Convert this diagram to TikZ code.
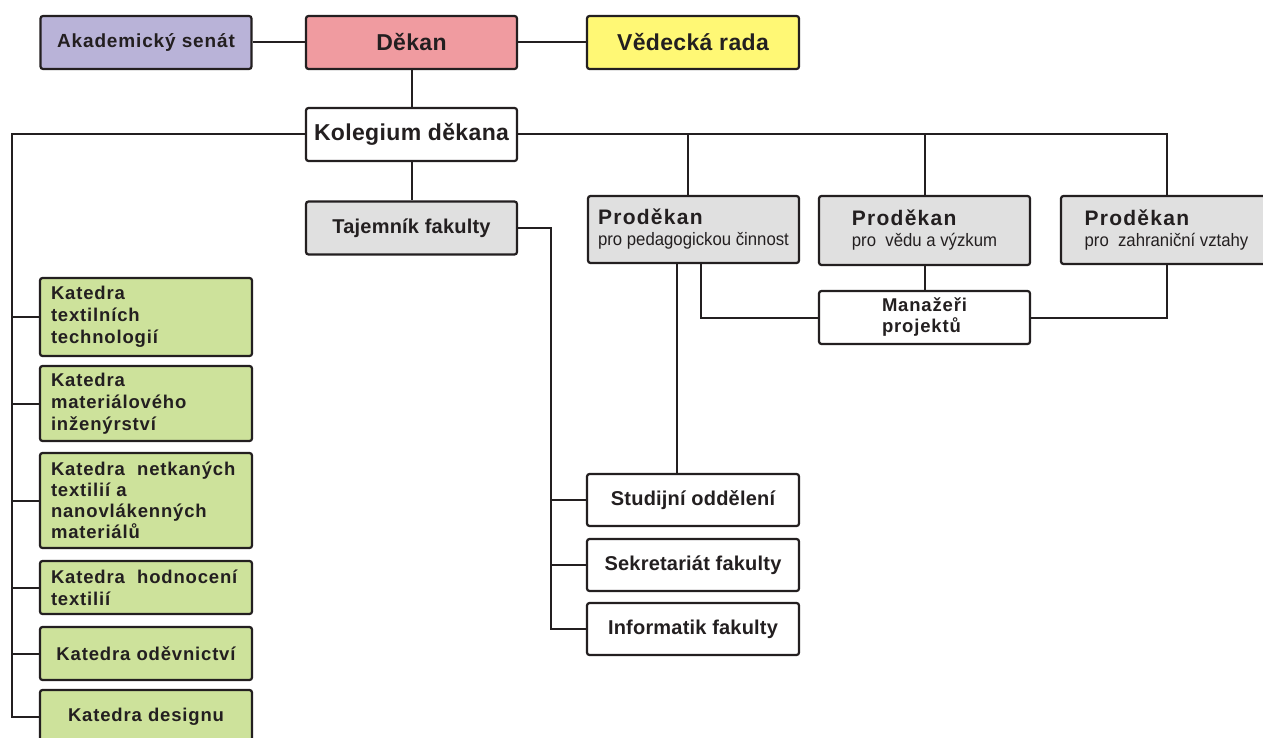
\documentclass[tikz,border=0pt]{standalone}
\usepackage{fontspec}
\setmainfont{Liberation Sans}
\newfontfamily\boxfont[LetterSpace=1]{Liberation Sans}
\newfontfamily\titlefont[LetterSpace=1.5]{Liberation Sans}
\newfontfamily\katfont[LetterSpace=4.5]{Liberation Sans}
\newfontfamily\prodfont[LetterSpace=6]{Liberation Sans}
\newfontfamily\narrowfont[FakeStretch=0.93]{Liberation Sans}
\usetikzlibrary{calc}

\definecolor{ink}{HTML}{231F20}
\definecolor{senatfill}{HTML}{B9B3D8}
\definecolor{dekanfill}{HTML}{F09BA0}
\definecolor{radafill}{HTML}{FFF875}
\definecolor{greyfill}{HTML}{E0E0E0}
\definecolor{katfill}{HTML}{CDE29B}

\tikzset{
  box/.style={draw=ink, line width=2.2pt, rounded corners=2.5pt, fill=white,
    minimum width=211pt, minimum height=53pt, inner sep=0pt, text=ink,
    font=\boxfont\bfseries\fontsize{20}{22}\selectfont},
  bigbox/.style={box, font=\titlefont\bfseries\fontsize{23}{26}\selectfont},
  prodbox/.style={box, fill=greyfill, align=left},
  katbox/.style={box, fill=katfill, minimum width=212pt, text width=190pt,
    align=left, font=\katfont\bfseries\fontsize{18.5}{22}\selectfont},
  link/.style={draw=ink, line width=2pt},
}

\newcommand{\prodtext}[1]{{\prodfont\fontsize{21}{24}\selectfont Proděkan}\\[-1pt]
  {\narrowfont\mdseries\fontsize{18}{19}\selectfont #1}}

\begin{document}
\begin{tikzpicture}[x=1pt,y=-1pt]
      \useasboundingbox (0,0) rectangle (1263,738);

      % top row
      \node[box, fill=senatfill, font=\katfont\bfseries\fontsize{19}{22}\selectfont] (senat) at (146,42.5) {Akademický senát};
      \node[bigbox, fill=dekanfill] (dekan) at (411.5,42.5) {Děkan};
      \node[bigbox, fill=radafill, minimum width=212pt] (rada) at (693,42.5) {Vědecká rada};

      \node[bigbox] (kolegium) at (411.5,134.5) {Kolegium děkana};
      \node[box, fill=greyfill] (tajemnik) at (411.5,228) {Tajemník fakulty};

      % prodekani
      \node[prodbox, minimum height=67pt] (prod1) at (693.5,229.5) {\prodtext{pro pedagogickou činnost}};
      \node[prodbox, minimum height=69pt] (prod2) at (924.5,230.5) {\prodtext{pro~~vědu a výzkum}};
      \node[prodbox, minimum height=68pt] (prod3) at (1166.5,230) {\prodtext{pro~~zahraniční vztahy}};
      \node[box, align=left, font=\katfont\bfseries\fontsize{18.5}{21}\selectfont] (manazeri) at (924.5,317.5) {Manažeři\\projektů};

      % oddeleni
      \node[box, minimum width=212pt, minimum height=52pt] (studijni) at (693,500) {Studijní oddělení};
      \node[box, minimum width=212pt, minimum height=52pt] (sekretariat) at (693,565) {Sekretariát fakulty};
      \node[box, minimum width=212pt, minimum height=52pt] (informatik) at (693,629) {Informatik fakulty};

      % katedry
      \node[katbox, minimum height=78pt] (kat1) at (146,317) {Katedra\\textilních\\technologií};
      \node[katbox, minimum height=75pt] (kat2) at (146,403.5) {Katedra\\materiálového\\inženýrství};
      \node[katbox, minimum height=95pt, font=\katfont\bfseries\fontsize{18.5}{21}\selectfont] (kat3) at (146,500.5) {Katedra~~netkaných\\textilií a\\nanovlákenných\\materiálů};
      \node[katbox, minimum height=53pt] (kat4) at (146,587.5) {Katedra~~hodnocení\\textilií};
      \node[katbox, minimum height=53pt, align=center] (kat5) at (146,653.5) {Katedra oděvnictví};
      \node[katbox, minimum height=53pt, align=center] (kat6) at (146,716.5) {Katedra designu};

      \coordinate (lbus) at (12,0);
      \coordinate (tbus) at (551,0);

      % spojnice
      \draw[link] (senat) -- (dekan);
      \draw[link] (dekan) -- (rada);
      \draw[link] (dekan) -- (kolegium);
      \draw[link] (kolegium) -- (tajemnik);

      \draw[link] (kolegium.west) -| (lbus |- kat6.west) -- (kat6.west);
      \foreach \k in {kat1,kat2,kat3,kat4,kat5}
        \draw[link] (lbus |- \k.west) -- (\k.west);

      \draw[link] (kolegium.east) -| (prod3.north);
      \draw[link] ([xshift=-5.5pt]prod1.north) -- ([xshift=-5.5pt]prod1.north |- kolegium.east);
      \draw[link] (prod2.north) -- (prod2.north |- kolegium.east);

      \draw[link] (prod2) -- (manazeri);
      \draw[link] ([xshift=7.5pt]prod1.south) |- (manazeri.west);
      \draw[link] (manazeri.east) -| (prod3.south);
      \draw[link] ([xshift=-16.5pt]prod1.south) -- ([xshift=-16.5pt]prod1.south |- studijni.north);

      \draw[link] (tajemnik.east) -| (tbus |- informatik.west) -- (informatik.west);
      \foreach \o in {studijni,sekretariat}
        \draw[link] (tbus |- \o.west) -- (\o.west);
    \end{tikzpicture}
\end{document}
